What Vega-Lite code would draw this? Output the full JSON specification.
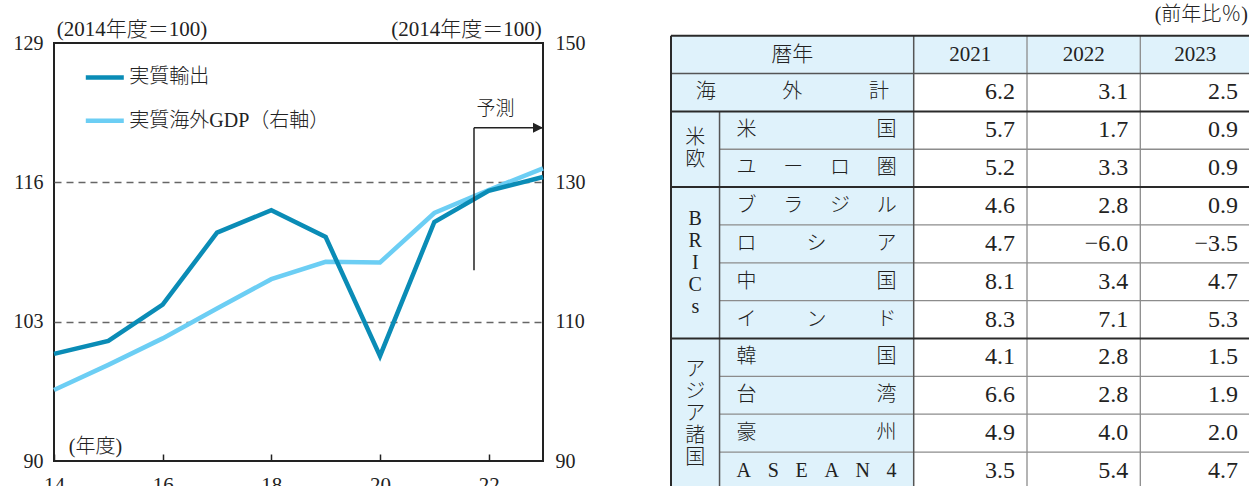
{
  "$schema": "https://vega.github.io/schema/vega-lite/v6.json",
  "background": "white",
  "autosize": {"type": "pad"},
  "padding": {"left": 12, "top": 4, "right": 0, "bottom": 0},
  "bounds": "flush",
  "spacing": 128,
  "config": {
    "view": {"stroke": null},
    "text": {"font": "Liberation Serif, Noto Sans CJK JP", "color": "#222222"},
    "title": {"font": "Liberation Serif, Noto Sans CJK JP", "color": "#222222", "fontWeight": 300},
    "axis": {
      "labelFont": "Liberation Serif",
      "labelFontSize": 20,
      "labelColor": "#222222",
      "titleFont": "Liberation Serif, Noto Sans CJK JP",
      "titleFontSize": 21,
      "titleFontWeight": 300,
      "titleColor": "#222222",
      "domain": false
    }
  },
  "datasets": {
    "series": [
      {"year": 14, "series": "実質輸出", "value": 100.0},
      {"year": 15, "series": "実質輸出", "value": 101.2},
      {"year": 16, "series": "実質輸出", "value": 104.6},
      {"year": 17, "series": "実質輸出", "value": 111.3},
      {"year": 18, "series": "実質輸出", "value": 113.4},
      {"year": 19, "series": "実質輸出", "value": 110.9},
      {"year": 20, "series": "実質輸出", "value": 99.8},
      {"year": 21, "series": "実質輸出", "value": 112.3},
      {"year": 22, "series": "実質輸出", "value": 115.2},
      {"year": 23, "series": "実質輸出", "value": 116.5},
      {"year": 14, "series": "実質海外GDP（右軸）", "value": 100.2},
      {"year": 15, "series": "実質海外GDP（右軸）", "value": 103.8},
      {"year": 16, "series": "実質海外GDP（右軸）", "value": 107.6},
      {"year": 17, "series": "実質海外GDP（右軸）", "value": 111.9},
      {"year": 18, "series": "実質海外GDP（右軸）", "value": 116.1},
      {"year": 19, "series": "実質海外GDP（右軸）", "value": 118.6},
      {"year": 20, "series": "実質海外GDP（右軸）", "value": 118.5},
      {"year": 21, "series": "実質海外GDP（右軸）", "value": 125.6},
      {"year": 22, "series": "実質海外GDP（右軸）", "value": 128.9},
      {"year": 23, "series": "実質海外GDP（右軸）", "value": 132.0}
    ],
    "forecast": [
      {"year": 21.73, "end": 23, "value": 121.1, "low": 107.8, "label": "予測"}
    ],
    "fills": [
      {"c0": 0, "c1": 8, "r0": 0, "r1": 1},
      {"c0": 0, "c1": 5, "r0": 1, "r1": 12}
    ],
    "gridlines": [
      {"w": "major", "c0": 0, "c1": 8, "r0": 0, "r1": 0},
      {"w": "major", "c0": 0, "c1": 8, "r0": 2, "r1": 2},
      {"w": "major", "c0": 0, "c1": 8, "r0": 4, "r1": 4},
      {"w": "major", "c0": 0, "c1": 8, "r0": 8, "r1": 8},
      {"w": "major", "c0": 0, "c1": 8, "r0": 12, "r1": 12},
      {"w": "major", "c0": 0, "c1": 0, "r0": 0, "r1": 12},
      {"w": "mid", "c0": 0, "c1": 8, "r0": 1, "r1": 1},
      {"w": "mid", "c0": 1, "c1": 1, "r0": 2, "r1": 12},
      {"w": "mid", "c0": 5, "c1": 5, "r0": 0, "r1": 12},
      {"w": "minor", "c0": 1, "c1": 8, "r0": 3, "r1": 3},
      {"w": "minor", "c0": 1, "c1": 8, "r0": 5, "r1": 5},
      {"w": "minor", "c0": 1, "c1": 8, "r0": 6, "r1": 6},
      {"w": "minor", "c0": 1, "c1": 8, "r0": 7, "r1": 7},
      {"w": "minor", "c0": 1, "c1": 8, "r0": 9, "r1": 9},
      {"w": "minor", "c0": 1, "c1": 8, "r0": 10, "r1": 10},
      {"w": "minor", "c0": 1, "c1": 8, "r0": 11, "r1": 11},
      {"w": "minor", "c0": 6, "c1": 6, "r0": 0, "r1": 12},
      {"w": "minor", "c0": 7, "c1": 7, "r0": 0, "r1": 12}
    ],
    "header": [
      {"text": "暦年", "c0": 0, "c1": 5},
      {"text": "2021", "c0": 5, "c1": 6},
      {"text": "2022", "c0": 6, "c1": 7},
      {"text": "2023", "c0": 7, "c1": 8}
    ],
    "groups": [
      {"text": "米\n欧", "r0": 2, "r1": 4},
      {"text": "B\nR\nI\nC\ns", "r0": 4, "r1": 8},
      {"text": "ア\nジ\nア\n諸\n国", "r0": 8, "r1": 12}
    ],
    "regions": [
      {"row": 1, "c0": 0, "label": "海　　　\u2004外　　　\u2004計", "2021": 6.2, "2022": 3.1, "2023": 2.5},
      {"row": 2, "c0": 1, "label": "米　　　　　　国", "2021": 5.7, "2022": 1.7, "2023": 0.9},
      {"row": 3, "c0": 1, "label": "ユ　\u2004ー　\u2004ロ　\u2004圏", "2021": 5.2, "2022": 3.3, "2023": 0.9},
      {"row": 4, "c0": 1, "label": "ブ　\u2004ラ　\u2004ジ　\u2004ル", "2021": 4.6, "2022": 2.8, "2023": 0.9},
      {"row": 5, "c0": 1, "label": "ロ　　\u2002シ　　\u2002ア", "2021": 4.7, "2022": -6.0, "2023": -3.5},
      {"row": 6, "c0": 1, "label": "中　　　　　　国", "2021": 8.1, "2022": 3.4, "2023": 4.7},
      {"row": 7, "c0": 1, "label": "イ　　\u2002ン　　\u2002ド", "2021": 8.3, "2022": 7.1, "2023": 5.3},
      {"row": 8, "c0": 1, "label": "韓　　　　　　国", "2021": 4.1, "2022": 2.8, "2023": 1.5},
      {"row": 9, "c0": 1, "label": "台　　　　　　湾", "2021": 6.6, "2022": 2.8, "2023": 1.9},
      {"row": 10, "c0": 1, "label": "豪　　　　　　州", "2021": 4.9, "2022": 4.0, "2023": 2.0},
      {"row": 11, "c0": 1, "label": "A\u2002\u2004S\u2002\u2004E\u2002\u2004A\u2002\u2004N\u2002\u20044", "2021": 3.5, "2022": 5.4, "2023": 4.7}
    ]
  },
  "hconcat": [
    {
      "width": 489,
      "height": 418,
      "view": {"stroke": "#222222", "strokeWidth": 2},
      "encoding": {
        "x": {
          "field": "year",
          "type": "quantitative",
          "scale": {"domain": [14, 23], "nice": false, "zero": false},
          "axis": {
            "orient": "bottom",
            "values": [14, 16, 18, 20, 22],
            "grid": false,
            "ticks": true,
            "tickSize": -7,
            "tickWidth": 1.5,
            "tickColor": "#222222",
            "labelPadding": 20,
            "labelFontSize": 21,
            "labelFlush": false,
            "labelOverlap": false,
            "title": "(年度)",
            "titleFontSize": 20,
            "titleAngle": 0,
            "titleAlign": "left",
            "titleBaseline": "middle",
            "titleX": 14.3,
            "titleY": -14.5
          }
        }
      },
      "layer": [
        {
          "data": {"name": "series"},
          "transform": [{"filter": "datum.series === '実質海外GDP（右軸）'"}],
          "mark": {"type": "line", "strokeWidth": 4.5, "strokeJoin": "miter"},
          "encoding": {
            "y": {
              "field": "value",
              "type": "quantitative",
              "scale": {"domain": [90, 150], "nice": false, "zero": false},
              "axis": {
                "orient": "right",
                "values": [90, 110, 130, 150],
                "grid": false,
                "ticks": false,
                "labelPadding": 12,
                "title": "(2014年度＝100)",
                "titleAngle": 0,
                "titleAlign": "right",
                "titleBaseline": "middle",
                "titleX": -1.7,
                "titleY": -13.8
              }
            },
            "color": {
              "field": "series",
              "type": "nominal",
              "scale": {"domain": ["実質輸出", "実質海外GDP（右軸）"], "range": ["#0A8CB6", "#6CCEF4"]},
              "legend": {
                "orient": "none",
                "legendX": 29.3,
                "legendY": 19.4,
                "direction": "vertical",
                "title": null,
                "symbolType": "stroke",
                "symbolSize": 1444,
                "symbolStrokeWidth": 4.5,
                "labelFont": "Liberation Serif, Noto Sans CJK JP",
                "labelFontSize": 20,
                "labelFontWeight": 300,
                "labelColor": "#222222",
                "labelOffset": 3,
                "labelLimit": 400,
                "rowPadding": 13.3,
                "clipHeight": 30,
                "padding": 0
              }
            }
          }
        },
        {
          "encoding": {
            "y": {
              "field": "value",
              "type": "quantitative",
              "scale": {"domain": [90, 129], "nice": false, "zero": false},
              "axis": {
                "orient": "left",
                "values": [90, 103, 116, 129],
                "grid": true,
                "gridColor": "#666666",
                "gridDash": [7, 5],
                "gridWidth": 1.5,
                "gridOpacity": {"condition": {"test": "datum.value === 90 || datum.value === 129", "value": 0}, "value": 1},
                "ticks": false,
                "labelPadding": 11,
                "title": "(2014年度＝100)",
                "titleAngle": 0,
                "titleAlign": "left",
                "titleBaseline": "middle",
                "titleX": 2.3,
                "titleY": -13.8
              }
            }
          },
          "layer": [
            {
              "data": {"name": "series"},
              "transform": [{"filter": "datum.series === '実質輸出'"}],
              "mark": {"type": "line", "strokeWidth": 4.5, "strokeJoin": "miter"},
              "encoding": {
                "color": {
                  "field": "series",
                  "type": "nominal",
                  "scale": {"domain": ["実質輸出", "実質海外GDP（右軸）"], "range": ["#0A8CB6", "#6CCEF4"]}
                }
              }
            },
            {
              "data": {"name": "forecast"},
              "mark": {"type": "rule", "color": "#222222", "strokeWidth": 1.5},
              "encoding": {"y2": {"field": "low"}}
            },
            {
              "data": {"name": "forecast"},
              "mark": {"type": "rule", "color": "#222222", "strokeWidth": 1.5},
              "encoding": {"x2": {"field": "end"}}
            },
            {
              "data": {"name": "forecast"},
              "mark": {"type": "point", "shape": "M-2,-1L0,0L-2,1Z", "filled": true, "color": "#222222", "size": 100, "opacity": 1},
              "encoding": {
                "x": {"field": "end", "type": "quantitative", "scale": {"domain": [14, 23], "nice": false, "zero": false}}
              }
            },
            {
              "data": {"name": "forecast"},
              "mark": {"type": "text", "align": "left", "baseline": "middle", "dx": 2.5, "dy": -18.5, "fontSize": 19, "fontWeight": 300},
              "encoding": {"text": {"field": "label"}}
            }
          ]
        }
      ],
      "resolve": {"scale": {"y": "independent"}}
    },
    {
      "width": 579,
      "height": 418,
      "view": {"stroke": null},
      "title": {"text": "(前年比％)", "anchor": "end", "frame": "group", "orient": "top", "fontSize": 20, "dx": -2, "offset": 10},
      "layer": [
        {
          "data": {"name": "fills"},
          "mark": {"type": "rect", "fill": "#DFF2FB"},
          "encoding": {
            "x": {"field": "c0", "type": "quantitative", "scale": {"domain": [0, 5, 6, 7, 8], "range": [0, 242.7, 356, 469.3, 579], "nice": false, "zero": false}, "axis": null},
            "x2": {"field": "c1"},
            "y": {"field": "r0", "type": "quantitative", "scale": {"domain": [0, 12], "range": [-7.3, 446.9], "nice": false, "zero": false}, "axis": null},
            "y2": {"field": "r1"}
          }
        },
        {
          "data": {"name": "gridlines"},
          "transform": [{"filter": "datum.w === 'minor'"}],
          "mark": {"type": "rule", "color": "#8C8C8C", "strokeWidth": 1.3},
          "encoding": {
            "x": {"field": "c0", "type": "quantitative", "scale": {"domain": [0, 5, 6, 7, 8], "range": [0, 242.7, 356, 469.3, 579], "nice": false, "zero": false}, "axis": null},
            "x2": {"field": "c1"},
            "y": {"field": "r0", "type": "quantitative", "scale": {"domain": [0, 12], "range": [-7.3, 446.9], "nice": false, "zero": false}, "axis": null},
            "y2": {"field": "r1"}
          }
        },
        {
          "data": {"name": "gridlines"},
          "transform": [{"filter": "datum.w === 'mid'"}],
          "mark": {"type": "rule", "color": "#555555", "strokeWidth": 1.5},
          "encoding": {
            "x": {"field": "c0", "type": "quantitative", "scale": {"domain": [0, 5, 6, 7, 8], "range": [0, 242.7, 356, 469.3, 579], "nice": false, "zero": false}, "axis": null},
            "x2": {"field": "c1"},
            "y": {"field": "r0", "type": "quantitative", "scale": {"domain": [0, 12], "range": [-7.3, 446.9], "nice": false, "zero": false}, "axis": null},
            "y2": {"field": "r1"}
          }
        },
        {
          "data": {"name": "gridlines"},
          "transform": [{"filter": "datum.w === 'major'"}],
          "mark": {"type": "rule", "color": "#2A2A2A", "strokeWidth": 2},
          "encoding": {
            "x": {"field": "c0", "type": "quantitative", "scale": {"domain": [0, 5, 6, 7, 8], "range": [0, 242.7, 356, 469.3, 579], "nice": false, "zero": false}, "axis": null},
            "x2": {"field": "c1"},
            "y": {"field": "r0", "type": "quantitative", "scale": {"domain": [0, 12], "range": [-7.3, 446.9], "nice": false, "zero": false}, "axis": null},
            "y2": {"field": "r1"}
          }
        },
        {
          "data": {"name": "header"},
          "transform": [{"calculate": "(datum.c0 + datum.c1) / 2", "as": "cx"}],
          "mark": {"type": "text", "align": "center", "baseline": "middle", "fontSize": 21, "fontWeight": 300},
          "encoding": {
            "x": {"field": "cx", "type": "quantitative", "scale": {"domain": [0, 5, 6, 7, 8], "range": [0, 242.7, 356, 469.3, 579], "nice": false, "zero": false}, "axis": null},
            "y": {"datum": 0.5, "type": "quantitative", "scale": {"domain": [0, 12], "range": [-7.3, 446.9], "nice": false, "zero": false}, "axis": null},
            "text": {"field": "text"}
          }
        },
        {
          "data": {"name": "regions"},
          "transform": [
            {"calculate": "(datum.c0 + 5) / 2", "as": "cx"},
            {"calculate": "datum.row + 0.5", "as": "ry"}
          ],
          "mark": {"type": "text", "align": "center", "baseline": "middle", "fontSize": 20, "fontWeight": 300},
          "encoding": {
            "x": {"field": "cx", "type": "quantitative", "scale": {"domain": [0, 5, 6, 7, 8], "range": [0, 242.7, 356, 469.3, 579], "nice": false, "zero": false}, "axis": null},
            "y": {"field": "ry", "type": "quantitative", "scale": {"domain": [0, 12], "range": [-7.3, 446.9], "nice": false, "zero": false}, "axis": null},
            "text": {"field": "label"}
          }
        },
        {
          "data": {"name": "groups"},
          "transform": [
            {"calculate": "(datum.r0 + datum.r1) / 2 - (length(split(datum.text, '\\n')) - 1) * 0.29", "as": "cy"}
          ],
          "mark": {"type": "text", "align": "center", "baseline": "middle", "fontSize": 20, "fontWeight": 300, "lineBreak": "\n", "lineHeight": 22},
          "encoding": {
            "x": {"datum": 0.5, "type": "quantitative", "scale": {"domain": [0, 5, 6, 7, 8], "range": [0, 242.7, 356, 469.3, 579], "nice": false, "zero": false}, "axis": null},
            "y": {"field": "cy", "type": "quantitative", "scale": {"domain": [0, 12], "range": [-7.3, 446.9], "nice": false, "zero": false}, "axis": null},
            "text": {"field": "text"}
          }
        },
        {
          "data": {"name": "regions"},
          "transform": [
            {"fold": ["2021", "2022", "2023"], "as": ["yr", "pct"]},
            {"calculate": "toNumber(datum.yr) - 2015", "as": "col"},
            {"calculate": "datum.row + 0.5", "as": "ry"}
          ],
          "mark": {"type": "text", "align": "right", "baseline": "middle", "fontSize": 24, "dx": -12},
          "encoding": {
            "x": {"field": "col", "type": "quantitative", "scale": {"domain": [0, 5, 6, 7, 8], "range": [0, 242.7, 356, 469.3, 579], "nice": false, "zero": false}, "axis": null},
            "y": {"field": "ry", "type": "quantitative", "scale": {"domain": [0, 12], "range": [-7.3, 446.9], "nice": false, "zero": false}, "axis": null},
            "text": {"field": "pct", "type": "quantitative", "format": ".1f"}
          }
        }
      ]
    }
  ]
}
